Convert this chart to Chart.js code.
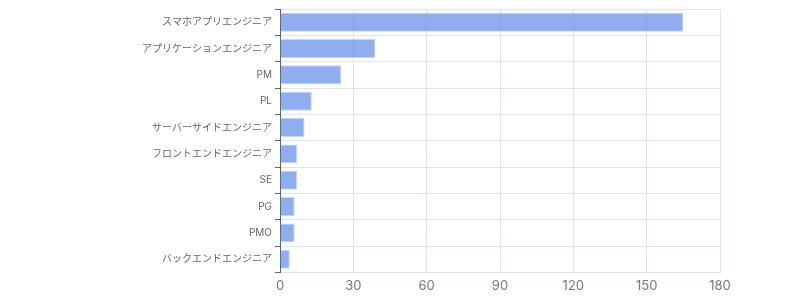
<!DOCTYPE html>
<html>
<head>
<meta charset="utf-8">
<script src="https://cdn.jsdelivr.net/npm/chart.js@4/dist/chart.umd.min.js"></script>
<style>
    html, body { margin: 0; padding: 0; background: #fff; }
    #wrap { width: 800px; height: 300px; }
</style>
</head>
<body>
<div id="wrap"><canvas id="chart"></canvas></div>
<script>
// 職種ごとの件数
const jobLabels = [
    'スマホアプリエンジニア',
    'アプリケーションエンジニア',
    'PM',
    'PL',
    'サーバーサイドエンジニア',
    'フロントエンドエンジニア',
    'SE',
    'PG',
    'PMO',
    'バックエンドエンジニア'
];
const jobCounts = [165, 39, 25, 13, 10, 7, 7, 6, 6, 4];
const xTicks = [0, 30, 60, 90, 120, 150, 180];

const fontFamily = 'Inter, "Noto Sans CJK JP", sans-serif';

const ctx = document.getElementById('chart').getContext('2d');
const chart = new Chart(ctx, {
    type: 'bar',
    data: {
        labels: jobLabels,
        datasets: [{
            data: jobCounts,
            backgroundColor: 'rgba(92, 135, 230, 0.68)',
            borderColor: 'rgba(180, 200, 245, 0.8)',
            borderWidth: 1
        }]
    },
    options: {
        indexAxis: 'y',
        responsive: true,
        maintainAspectRatio: false,
        animation: false,
        layout: {
            padding: { left: 0, right: 80, top: 4, bottom: 0 }
        },
        plugins: {
            legend: { display: false },
            tooltip: { enabled: false }
        },
        scales: {
            x: {
                min: 0,
                max: 180,
                afterBuildTicks: function (scale) {
                    scale.ticks = xTicks.map(v => ({ value: v }));
                },
                grid: { color: '#dde3f1', tickLength: 0 },
                border: { color: '#dde3f1' },
                ticks: { color: '#777', font: { family: fontFamily, size: 13 }, padding: 6 }
            },
            y: {
                afterFit: function (scale) {
                    scale.width = 280;
                },
                grid: { color: '#dde3f1', tickLength: 5, tickColor: '#666' },
                border: { color: '#5a6070' },
                ticks: { color: '#666', font: { family: fontFamily, size: 10 }, padding: 3 }
            }
        }
    }
});
</script>
</body>
</html>
